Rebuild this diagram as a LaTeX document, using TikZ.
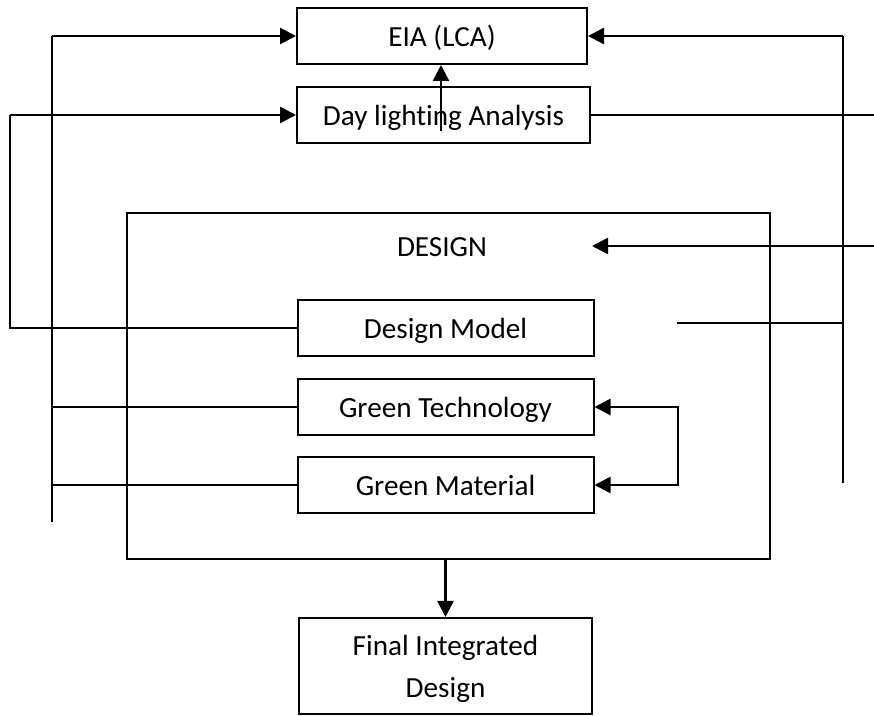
\documentclass[tikz,border=0pt]{standalone}
\usepackage{fontspec}
\setmainfont{Carlito}[Ligatures={NoCommon,NoContextual,NoRare}]
\usetikzlibrary{arrows.meta}

\begin{document}
\begin{tikzpicture}[x=0.5pt,y=-0.5pt,
    box/.style={draw,line width=1pt,minimum width=148pt,minimum height=28pt,
      inner sep=0pt,text depth=0pt,font=\fontsize{14.6}{21}\selectfont},
    ln/.style={line width=0.8pt},
    arr/.style={line width=1.25pt,-{Triangle[length=8pt,width=8pt]}},
    arrs/.style={line width=1.25pt,{Triangle[length=8pt,width=8pt]}-{Triangle[length=8pt,width=8pt]}}]
  \useasboundingbox (0,0) rectangle (874,716);
  \def\txt{\fontsize{14.6}{21}\selectfont}

  \node[box,minimum width=145pt] (eia) at (442,36) {EIA (LCA)};
  \node[box,minimum width=146.5pt] (daylight) at (443.5,115) {Day lighting Analysis};
  \node[box,minimum width=321.5pt,minimum height=173pt] (design) at (448.5,386) {};
  \node[font=\txt,text depth=0pt] (designlbl) at (442,247) {DESIGN};
  \node[box] (model) at (445.5,328) {Design Model};
  \node[box] (tech) at (445.5,407) {Green Technology};
  \node[box] (material) at (445.5,485) {Green Material};
  \node[box,minimum width=146.5pt,minimum height=48pt,align=center] (final) at (445.5,666)
    {Final Integrated\\Design};

  % left side
  \coordinate (la) at (52,522);
  \coordinate (lat) at (52,36);
  \coordinate (lb) at (10,115);
  \draw[ln] (la) -- (lat);
  \draw[arr] (lat) -- (eia.west);
  \draw[ln] (tech.west) -- (tech.west -| la);
  \draw[ln] (material.west) -- (material.west -| la);
  \draw[ln] (model.west) -| (lb);
  \draw[arr] (lb) -- (daylight.west);

  % centre
  \coordinate (dl) at (441,131);
  \draw[ln] (dl) -- (dl |- daylight.north);
  \draw[arr] (dl |- daylight.north) -- (dl |- eia.south);
  \draw[arr] (design.south -| final.north) -- (final.north);

  % right side
  \coordinate (ra) at (843,36);
  \coordinate (rb) at (843,483);
  \coordinate (rc) at (874,115);
  \coordinate (rd) at (874,246);
  \coordinate (rdt) at (592,246);
  \coordinate (re) at (677,323);
  \draw[ln] (ra) -- (rb);
  \draw[arr] (ra) -- (eia.east);
  \draw[ln] (daylight.east) -- (rc);
  \draw[arr] (rd) -- (rdt);
  \draw[ln] (re) -- (re -| ra);
  \draw[arrs] (tech.east) -- (678,407) -- (678,485) -- (material.east);
\end{tikzpicture}
\end{document}
